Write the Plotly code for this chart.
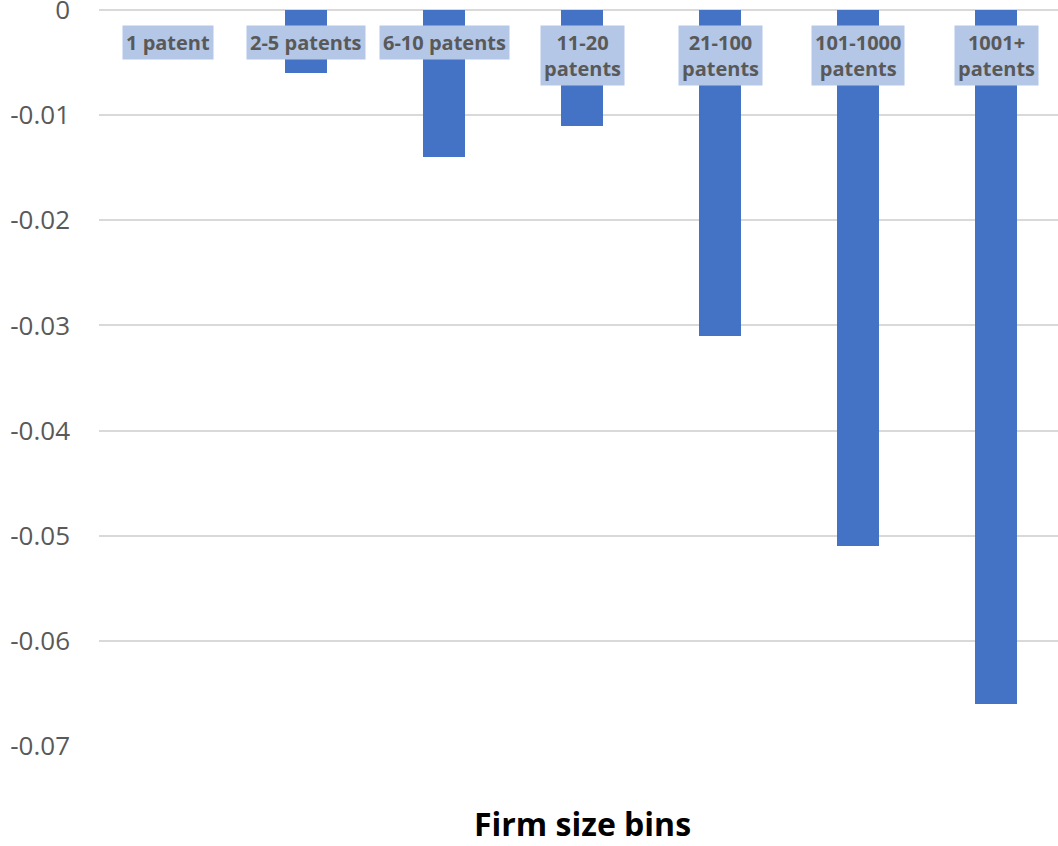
import plotly.graph_objects as go

# Firm size bins and their estimated effect
categories = ["1 patent", "2-5 patents", "6-10 patents", "11-20 patents",
              "21-100 patents", "101-1000 patents", "1001+ patents"]
category_labels = ["1 patent", "2-5 patents", "6-10 patents", "11-20<br>patents",
                   "21-100<br>patents", "101-1000<br>patents", "1001+<br>patents"]
values = [0.0, -0.006, -0.014, -0.011, -0.031, -0.051, -0.066]

y_ticks = [0, -0.01, -0.02, -0.03, -0.04, -0.05, -0.06, -0.07]
y_tick_text = ["0", "-0.01", "-0.02", "-0.03", "-0.04", "-0.05", "-0.06", "-0.07"]

fig = go.Figure()
fig.add_trace(go.Bar(
    x=list(range(len(categories))),
    y=values,
    width=0.31,
    marker=dict(color="#4472C4", line=dict(width=0)),
    hovertext=categories,
))

# Category labels sitting on the zero line, with a highlighted background
for i, lab in enumerate(category_labels):
    fig.add_annotation(
        x=i, y=0, xref="x", yref="y",
        text=lab, showarrow=False,
        yanchor="top", yshift=-15,
        font=dict(family="Open Sans", size=20, color="#595959", weight="bold"),
        bgcolor="#B4C7E7", borderpad=3,
    )

# Axis title
fig.add_annotation(
    x=3, y=-0.1046, xref="x", yref="paper",
    text="<b>Firm size bins</b>", showarrow=False,
    yanchor="middle",
    font=dict(family="Open Sans", size=32, color="#000000"),
)

fig.update_layout(
    width=1058, height=846,
    margin=dict(l=99, r=0, t=8, b=100, autoexpand=False),
    paper_bgcolor="white", plot_bgcolor="white",
    showlegend=False,
    bargap=0,
)
fig.update_xaxes(
    range=[-0.5, 6.449], showticklabels=False, showgrid=False,
    zeroline=False, showline=False, ticks="", automargin=False,
)
fig.update_yaxes(
    range=[-0.07, 0.0002], tickvals=y_ticks, ticktext=y_tick_text,
    showgrid=True, gridcolor="#D9D9D9", gridwidth=1.5,
    zeroline=False, showline=False, ticks="", automargin=False,
    ticklabelstandoff=28, ticklabeloverflow="allow",
    tickfont=dict(family="Open Sans", size=26, color="#595959"),
)

fig.write_html("out.html")
